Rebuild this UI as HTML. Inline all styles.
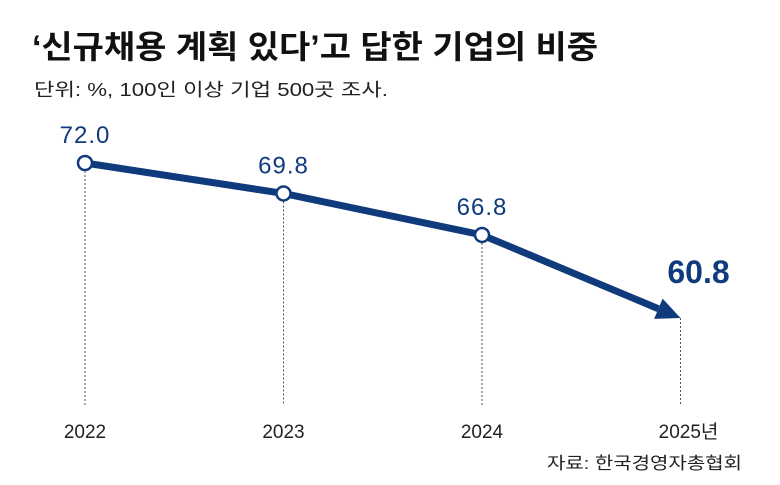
<!DOCTYPE html>
<html><head><meta charset="utf-8">
<style>
body{margin:0;background:#fff;}
svg{display:block;font-family:"Liberation Sans","Noto Sans CJK KR",sans-serif;}
</style></head>
<body>
<svg id="chart" width="780" height="485" viewBox="0 0 780 485">
<text x="32" y="58" font-size="32" font-weight="bold" fill="#111" textLength="566" lengthAdjust="spacingAndGlyphs">‘신규채용 계획 있다’고 답한 기업의 비중</text>
<text x="34" y="96" font-size="18" fill="#222" textLength="354" lengthAdjust="spacingAndGlyphs">단위: %, 100인 이상 기업 500곳 조사.</text>
<text x="547" y="469" font-size="17" fill="#222" textLength="195" lengthAdjust="spacingAndGlyphs">자료: 한국경영자총협회</text>
<g id="marks"></g>
</svg>
<script>
const years=["2022","2023","2024","2025년"];
const values=[72.0,69.8,66.8,60.8];
const labels=["72.0","69.8","66.8","60.8"];
const NS="http://www.w3.org/2000/svg";
const g=document.getElementById("marks");
function xs(i){return 85+i*198.5;}
function ys(v){return 163+(72-v)*13.84;}
function mk(t,a){const e=document.createElementNS(NS,t);for(const k in a)e.setAttribute(k,a[k]);g.appendChild(e);return e;}
const color="#0f3a7c";
for(let i=0;i<values.length;i++){
  const d=mk("line",{x1:xs(i),x2:xs(i),y1:ys(values[i]),y2:405,stroke:"#555","stroke-width":1,"stroke-dasharray":"2,2"});
  
  
}
const n=values.length;
const xe=xs(n-1),ye=ys(values[n-1]);
const xp=xs(n-2),yp=ys(values[n-2]);
const dx=xe-xp,dy=ye-yp,len=Math.hypot(dx,dy),ux=dx/len,uy=dy/len;
const head=24;
let pts=[];
for(let i=0;i<n-1;i++)pts.push(xs(i)+","+ys(values[i]));
pts.push((xe-ux*head)+","+(ye-uy*head));
const pl=mk("polyline",{points:pts.join(" "),fill:"none",stroke:color,"stroke-width":7,"stroke-linejoin":"round"});


const bx=xe-ux*head,by=ye-uy*head,px=-uy,py=ux,w=11;
const ah=mk("polygon",{points:`${xe},${ye} ${bx+px*w},${by+py*w} ${bx-px*w},${by-py*w}`,fill:color});


for(let i=0;i<n;i++){
  if(i<n-1){
    const c=mk("circle",{cx:xs(i),cy:ys(values[i]),r:7,fill:"#fff",stroke:color,"stroke-width":2.5});
    
    
    const t=mk("text",{x:xs(i),y:ys(values[i])-20,"font-size":24,fill:color,"text-anchor":"middle","letter-spacing":"1"});
    t.textContent=labels[i];
    
    
  } else {
    const t=mk("text",{x:xs(i)+18,y:ys(values[i])-35,"font-size":32,"font-weight":"bold",fill:color,"text-anchor":"middle"});
    t.textContent=labels[i];
    
    
  }
  const yl=mk("text",{x:xs(i)+(i==n-1?8:0),y:438,"font-size":19,fill:"#222","text-anchor":"middle"});
  yl.textContent=years[i];
  
  
}
</script>
</body></html>
